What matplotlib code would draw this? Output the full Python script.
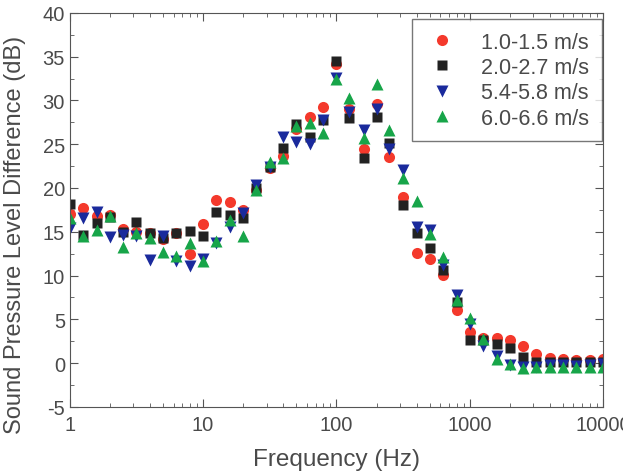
import numpy as np
import matplotlib.pyplot as plt
from matplotlib.ticker import MultipleLocator, FixedLocator, NullFormatter

plt.rcParams['font.family'] = ['Liberation Sans', 'DejaVu Sans']
plt.rcParams['axes.unicode_minus'] = False

# 1/3-octave band centre frequencies (Hz)
freq = [1, 1.25, 1.6, 2, 2.5, 3.15, 4, 5, 6.3, 8,
        10, 12.5, 16, 20, 25, 31.5, 40, 50, 63, 80,
        100, 125, 160, 200, 250, 315, 400, 500, 630, 800,
        1000, 1250, 1600, 2000, 2500, 3150, 4000, 5000, 6300, 8000, 10000]

spl_10_15 = [17.0, 17.7, 16.8, 16.9, 15.3, 15.0, 14.8, 14.2, 14.8, 12.4,
             15.9, 18.6, 18.4, 17.5, 19.8, 22.3, 23.6, 26.7, 28.1, 29.2,
             34.1, 29.0, 24.4, 29.6, 23.5, 19.0, 12.6, 11.9, 10.1, 6.1,
             3.6, 2.9, 2.9, 2.6, 2.0, 1.0, 0.6, 0.5, 0.35, 0.35, 0.5]

spl_20_27 = [18.2, 14.6, 16.0, 16.7, 15.0, 16.1, 14.9, 14.3, 14.8, 15.1,
             14.5, 17.2, 16.9, 16.6, 20.0, 22.4, 24.6, 27.3, 25.8, 27.8,
             34.5, 28.0, 23.4, 28.1, 25.1, 18.0, 14.9, 13.1, 10.6, 7.0,
             2.6, 2.6, 2.2, 1.7, 0.7, 0.15, 0.1, 0.1, 0.1, 0.1, 0.1]

spl_54_58 = [15.4, 16.6, 17.3, 14.4, 14.6, 14.5, 11.8, 14.5, 11.6, 11.1,
             11.9, 13.7, 15.5, 17.1, 20.3, 22.4, 25.8, 25.3, 25.0, 27.8,
             32.6, 28.7, 26.6, 29.0, 24.5, 22.0, 15.5, 15.2, 11.2, 7.8,
             4.5, 2.0, 0.8, -0.2, -0.5, -0.4, -0.2, -0.2, -0.3, -0.2, -0.15]

spl_60_66 = [16.6, 14.5, 15.2, 16.8, 13.2, 14.8, 14.3, 12.7, 12.2, 13.7,
             11.6, 13.9, 16.3, 14.5, 19.8, 23.0, 23.4, 27.1, 27.4, 26.3,
             32.5, 30.3, 25.7, 31.9, 26.6, 21.1, 18.5, 14.7, 12.1, 7.2,
             5.1, 2.8, 0.5, -0.15, -0.6, -0.4, -0.4, -0.4, -0.4, -0.4, -0.4]

labels = ['1.0-1.5 m/s', '2.0-2.7 m/s', '5.4-5.8 m/s', '6.0-6.6 m/s']

fig = plt.figure(figsize=(6.23, 4.77), dpi=100)
ax = fig.add_axes([0.112, 0.145, 0.856, 0.826])

ax.plot(freq, spl_10_15, 'o', color='#f4392c', ms=8, mec='none', label=labels[0])
ax.plot(freq, spl_20_27, 's', color='#222222', ms=7, mec='none', label=labels[1])
ax.plot(freq, spl_54_58, 'v', color='#1a2a9c', ms=9, mec='none', label=labels[2])
ax.plot(freq, spl_60_66, '^', color='#17a549', ms=9, mec='none', label=labels[3])

ax.set_xscale('log')
ax.set_xlim(1, 10000)
ax.set_ylim(-5, 40)
ax.set_xticks([1, 10, 100, 1000, 10000])
ax.set_xticklabels(['1', '10', '100', '1000', '10000'])
ax.xaxis.set_minor_locator(FixedLocator([m * 10 ** d for d in range(4) for m in range(2, 10)]))
ax.xaxis.set_minor_formatter(NullFormatter())
ax.yaxis.set_major_locator(MultipleLocator(5))
ax.yaxis.set_minor_locator(MultipleLocator(2.5))

txt = '#4a4a4a'
for s in ax.spines.values():
    s.set_color('#555555')
ax.tick_params(which='both', direction='in', top=True, right=True, colors='#555555',
               labelcolor=txt, labelsize=14.5)
ax.tick_params(which='major', length=6)
ax.tick_params(which='minor', length=3)
ax.tick_params(axis='x', pad=6)

ax.set_xlabel('Frequency (Hz)', fontsize=17.5, color=txt, labelpad=10)
ax.set_ylabel('Sound Pressure Level Difference (dB)', fontsize=17, color=txt)
ax.yaxis.set_label_coords(-0.083, 0.44)

leg = ax.legend(loc='upper right', bbox_to_anchor=(0.998, 0.985), fontsize=15.5,
                frameon=True, fancybox=False, edgecolor='#555555', borderpad=0.6,
                labelspacing=0.2, handletextpad=1.0, borderaxespad=0.0, handlelength=1.6)
for t in leg.get_texts():
    t.set_color(txt)

fig.savefig('out.png', dpi=100)
